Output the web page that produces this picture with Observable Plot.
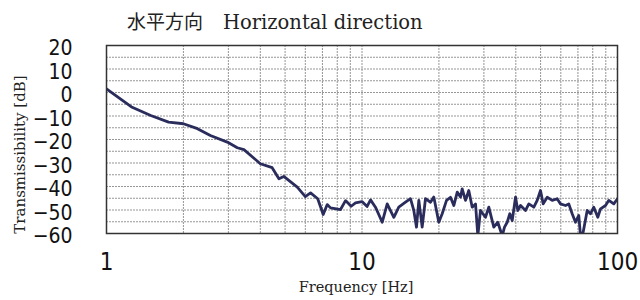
<!DOCTYPE html>
<html>
<head>
<meta charset="utf-8">
<script src="https://cdn.jsdelivr.net/npm/d3@7"></script>
<script src="https://cdn.jsdelivr.net/npm/@observablehq/plot@0.6"></script>
<style>
  html, body { margin: 0; padding: 0; background: #fff; }
  #wrap { width: 640px; height: 300px; position: relative; overflow: hidden; }
  #title { height: 38px; box-sizing: border-box; padding-left: 127px; padding-top: 9px;
           font-family: "DejaVu Serif", serif; font-size: 19.5px; color: #222; line-height: 24px; white-space: pre; }
  #title .cjk { font-family: "Noto Sans CJK JP", sans-serif; font-size: 19px; margin-right: 20px; }
</style>
</head>
<body>
<div id="wrap">
  <div id="title"></div>
  <div id="chart"></div>
</div>
<script>
const freq = [1, 1.26, 1.49, 1.75, 2.0, 2.27, 2.55, 2.97, 3.25, 3.45, 4.0, 4.45, 4.73, 4.94, 5.58, 6.0, 6.29, 6.71, 7.05, 7.31, 7.53, 8.24, 8.62, 9.07, 9.43, 10.0, 10.47, 10.8,
  11.29, 12.0, 12.55, 13.32, 13.93, 14.8, 15.48, 15.95, 16.34, 16.69, 17.2, 17.72, 18.54, 19.1, 19.98, 20.6, 21.42, 22.2, 22.87, 23.59,
  24.3, 24.67, 25.42, 26.18, 27.0, 27.82, 28.4, 29.09, 30.43, 31.35, 32.8, 34.0, 35.38, 36.12, 37.01, 37.89, 38.72, 39.89, 40.72, 41.74,
  43.65, 44.97, 47.04, 48.5, 49.96, 51.19, 53.08, 55.52, 58.07, 59.83, 62.57, 64.46, 66.47, 68.48, 70.54, 71.64, 73.41, 76.1, 78.4, 80.76,
  83.73, 85.8, 89.77, 92.48, 96.72, 100];
const trans = [1.5, -6.3, -9.8, -12.6, -13.3, -15.4, -18.3, -21.1, -23.5, -24.3, -30.3, -32.0, -36.7, -35.7, -40.3, -44.3, -42.7, -45.2, -51.9, -47.7, -49.1, -49.8, -46.0, -48.4, -47.0, -46.4, -48.5, -45.7,
  -48.8, -55.2, -47.4, -53.1, -48.8, -46.7, -45.2, -50.2, -57.3, -45.9, -57.3, -45.2, -46.7, -44.5, -55.2, -51.6, -45.9, -44.6, -48.1, -42.4,
  -44.5, -41.0, -45.9, -41.7, -48.8, -47.4, -61, -50.2, -53.1, -48.8, -57.3, -55.2, -61, -57.3, -55.2, -51.6, -54.5, -44.5, -50.2, -48.1,
  -50.2, -47.4, -48.8, -45.9, -41.7, -47.4, -44.6, -45.9, -45.2, -47.4, -48.1, -47.4, -51.6, -55.2, -52.3, -61, -59.4, -50.2, -51.6, -48.8,
  -53.1, -49.5, -48.1, -45.9, -47.4, -45.2];
const yTicks = [-60, -50, -40, -30, -20, -10, 0, 10, 20];
const xTicks = [1, 10, 100];
const xGrid = [2, 3, 4, 5, 6, 7, 8, 9, 10, 20, 30, 40, 50, 60, 70, 80, 90];
const yGrid = [-55, -50, -45, -40, -35, -30, -25, -20, -15, -10, -5, 0, 5, 10, 15];
const titleCJK = "水平方向";
const titleLatin = "Horizontal direction";
const xLabel = "Frequency [Hz]";
const yLabel = "Transmissibility [dB]";

const titleEl = document.getElementById("title");
const cjk = document.createElement("span");
cjk.className = "cjk";
cjk.textContent = titleCJK;
titleEl.appendChild(cjk);
titleEl.appendChild(document.createTextNode(titleLatin));

const data = freq.map((f, i) => ({f, v: trans[i]}));
const tickFont = "'Liberation Sans Narrow', 'DejaVu Sans Condensed', sans-serif";

const chart = Plot.plot({
  width: 640,
  height: 262,
  marginLeft: 106,
  marginRight: 23,
  marginTop: 7,
  marginBottom: 67,
  style: {background: "#fff", overflow: "visible"},
  x: {type: "log", domain: [1, 100]},
  y: {domain: [-60, 20]},
  marks: [
    Plot.ruleY(yGrid, {stroke: "#8a8a8a", strokeWidth: 0.9, strokeDasharray: "2,1"}),
    Plot.ruleX(xGrid, {stroke: "#8a8a8a", strokeWidth: 0.9, strokeDasharray: "2,1"}),
    Plot.line(data, {x: "f", y: "v", stroke: "#2a2c5c", strokeWidth: 2.8, clip: true, strokeLinejoin: "round"}),
    Plot.frame({stroke: "#333", strokeWidth: 1.5}),
    Plot.axisY(yTicks, {tickSize: 0, tickPadding: 34, fontSize: 21, dy: 3,
      fontFamily: tickFont,
      tickFormat: d => d < 0 ? "\u2212" + Math.abs(d) : String(d), label: null, fill: "#111"}),
    Plot.axisX(xTicks, {tickSize: 0, tickPadding: 19, fontSize: 24,
      fontFamily: tickFont,
      tickFormat: d => String(d), label: null, fill: "#111"}),
    Plot.text([xLabel], {frameAnchor: "bottom", dy: 58, dx: -6, text: d => d, fontSize: 14.5,
      fontFamily: "'DejaVu Serif', serif", fill: "#222"}),
    Plot.text([yLabel], {frameAnchor: "left", dx: -86, dy: 15, rotate: -90, textAnchor: "middle", text: d => d, fontSize: 15,
      fontFamily: "'DejaVu Serif', serif", fill: "#222"})
  ]
});
document.getElementById("chart").appendChild(chart);
</script>
</body>
</html>
